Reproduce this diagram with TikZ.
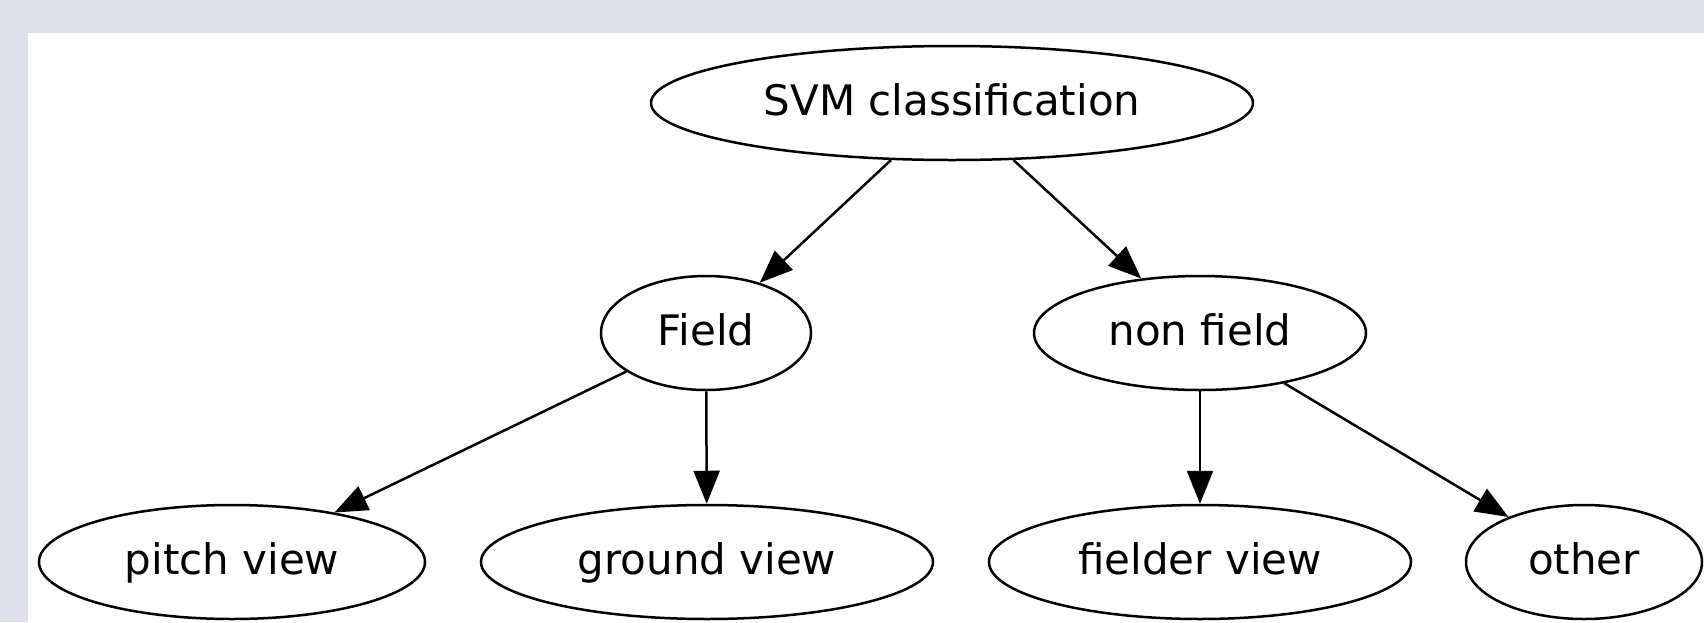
\documentclass[tikz,border=0pt]{standalone}
\usepackage{fontspec}
\setmainfont{DejaVu Sans}
\usetikzlibrary{shapes.geometric,arrows.meta}
\definecolor{frame}{HTML}{DDE0EA}
\tikzset{
  oval/.style n args={2}{ellipse, draw=black, line width=1.25pt, fill=white,
    inner sep=0pt, minimum width=#1, minimum height=#2,
    text height=16.8pt, text depth=4pt,
    font=\fontsize{21}{25}\selectfont},
  link/.style={draw=black, line width=1.25pt,
    -{Triangle[length=16.5pt, width=13pt]}},
}
\begin{document}
\begin{tikzpicture}[x=0.5pt, y=-0.5pt]
  % page frame
  \fill[frame] (0,0) rectangle (1704,622);
  \fill[white] (28,33) rectangle (1704,622);
  \useasboundingbox (0,0) rectangle (1704,622);
  % nodes
  \node[oval={301pt}{57pt}] (svm) at (952,103) {SVM classification};
  \node[oval={105pt}{57pt}] (field) at (706,333) {Field};
  \node[oval={166pt}{57pt}] (nonfield) at (1200,333) {non field};
  \node[oval={193pt}{57pt}] (pitch) at (232,562) {pitch view};
  \node[oval={226pt}{57pt}] (ground) at (707,562) {ground view};
  \node[oval={211pt}{57pt}] (fielder) at (1200,562) {fielder view};
  \node[oval={118pt}{57pt}] (other) at (1584,562) {other};
  % edges
  \draw[link] (svm) -- (field);
  \draw[link] (svm) -- (nonfield);
  \draw[link] (field) -- (pitch);
  \draw[link] (field) -- (ground);
  \draw[link] (nonfield) -- (fielder);
  \draw[link] (nonfield) -- (other);
\end{tikzpicture}
\end{document}
